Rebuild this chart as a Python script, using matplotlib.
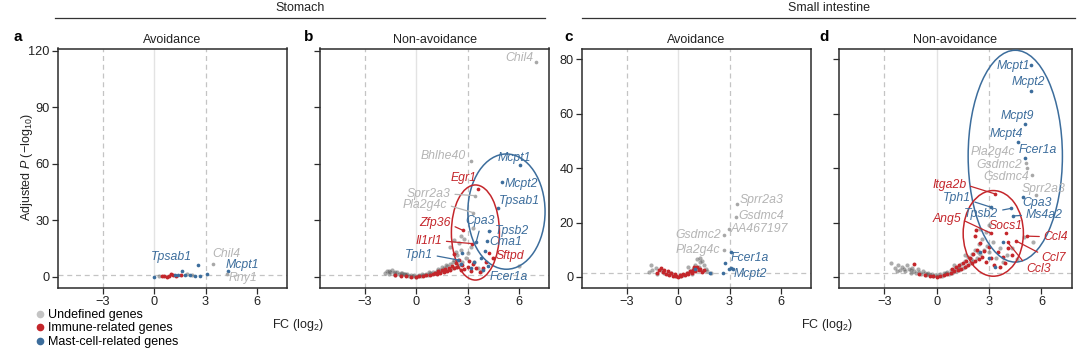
import matplotlib.pyplot as plt
from matplotlib.patches import Ellipse
from matplotlib.lines import Line2D

plt.rcParams['font.family'] = ['Liberation Sans', 'DejaVu Sans']
plt.rcParams['mathtext.fontset'] = 'custom'
plt.rcParams['mathtext.rm'] = 'Liberation Sans'
plt.rcParams['mathtext.it'] = 'Liberation Sans:italic'

GREY = '#b4b4b4'
RED = '#c4262b'
BLUE = '#3c6d9c'
cols = {'grey': GREY, 'immune': RED, 'mast': BLUE}

# ---- data (FC log2, -log10 adj P)
# a: stomach, avoidance
a_grey = [(1.9, 1.8), (2.2, 1.2), (0.3, 0.4)]
a_red = [(0.45, 0.3), (0.6, 0.4), (0.75, 0.2), (0.9, 0.6), (1.0, 1.4), (1.1, 0.9), (1.3, 0.6), (1.55, 1.0)]
a_blue = [(0.0, 0.2), (1.2, 0.9), (1.4, 1.2), (1.64, 3.0), (1.8, 1.0), (2.1, 0.8), (2.4, 0.5), (2.7, 0.7), (3.1, 1.4)]
a_genes = [('Tpsab1', 'mast', 2.55, 6.2), ('Chil4', 'grey', 3.45, 7.0),
           ('Mcpt1', 'mast', 4.3, 3.4), ('Rny1', 'grey', 4.25, 1.6)]

# b: stomach, non-avoidance
b_grey = [(-1.8, 2.0), (-1.7, 3.0), (-1.6, 1.5), (-1.5, 2.5), (-1.4, 3.5), (-1.3, 2.0), (-1.2, 1.2), (-1.1, 2.8),
          (-1.0, 1.8), (-0.9, 1.0), (-0.8, 2.2), (-0.7, 1.4), (-0.6, 0.9), (-0.5, 1.6), (-0.4, 0.6), (-0.3, 1.1),
          (-0.2, 0.4), (-0.1, 0.8), (0.0, 0.2), (0.1, 0.5), (0.2, 0.9), (0.3, 0.4), (0.4, 1.2), (0.5, 0.8),
          (0.6, 1.6), (0.7, 1.1), (0.8, 2.0), (0.9, 1.5), (1.0, 2.6), (1.1, 1.9), (1.2, 3.2), (1.3, 2.4),
          (1.4, 3.8), (1.5, 2.9), (1.6, 4.5), (1.7, 3.4), (1.8, 5.6), (1.9, 4.0), (2.0, 7.0), (2.1, 4.8),
          (2.2, 9.0), (2.3, 5.5), (2.4, 11.5), (2.5, 6.5), (2.6, 14.5), (2.7, 8.0), (2.8, 20.0), (2.9, 10.0),
          (3.0, 12.5), (3.2, 16.0), (3.4, 8.0), (3.6, 5.0), (3.8, 3.0), (2.2, 19.5), (2.0, 16.0), (2.5, 18.0),
          (6.0, 6.0), (3.3, 26.0), (2.6, 22.0), (-1.2, 2.4), (-0.9, 1.9), (1.5, 5.2), (2.3, 13.0),
          (-1.55, 3.2), (-0.65, 1.8), (0.35, 1.5), (0.75, 2.6), (1.25, 4.0), (1.75, 6.2), (2.15, 7.8)]
b_red = [(-1.2, 1.0), (-0.9, 0.6), (-0.6, 0.4), (-0.3, 0.2), (0.0, 0.1), (0.2, 0.3), (0.4, 0.6), (0.6, 0.9),
         (0.8, 1.3), (1.0, 1.7), (1.1, 2.3), (1.2, 1.5), (1.3, 3.0), (1.4, 2.0), (1.5, 3.6), (1.6, 2.6),
         (1.7, 4.3), (1.8, 3.2), (1.9, 5.0), (2.0, 3.8), (2.1, 6.0), (2.2, 4.5), (2.3, 7.5), (2.4, 5.3),
         (2.5, 9.0), (2.6, 3.5), (2.7, 6.5), (2.8, 4.0), (3.0, 5.5), (3.1, 8.5), (3.2, 3.0), (3.3, 6.8),
         (3.5, 4.5), (3.7, 2.5), (3.9, 5.0), (4.1, 8.0), (4.5, 10.0), (2.2, 12.0)]
b_blue = [(2.7, 12.5), (3.8, 10.0), (4.0, 14.0), (3.4, 8.0), (3.9, 3.5), (2.6, 7.0), (3.2, 5.0)]
b_genes = [('Chil4', 'grey', 7.0, 114.0), ('Bhlhe40', 'grey', 3.2, 61.8), ('Mcpt1', 'mast', 6.07, 59.3),
           ('Mcpt2', 'mast', 5.0, 50.6), ('Tpsab1', 'mast', 4.76, 36.8), ('Egr1', 'immune', 3.6, 46.6),
           ('Sprr2a3', 'grey', 3.41, 43.2), ('Pla2g4c', 'grey', 3.31, 34.2), ('Cpa3', 'mast', 3.5, 18.4),
           ('Zfp36', 'immune', 2.72, 24.8), ('Il1rl1', 'immune', 3.28, 17.7), ('Tpsb2', 'mast', 4.24, 24.3),
           ('Cma1', 'mast', 4.16, 19.3), ('Sftpd', 'immune', 4.28, 12.6), ('Tph1', 'mast', 2.45, 9.0),
           ('Fcer1a', 'mast', 4.2, 6.0)]

# c: small intestine, avoidance
c_grey = [(-1.6, 4.2), (-1.5, 2.5), (-1.7, 1.8), (-1.3, 3.2), (-1.2, 1.2), (-1.0, 2.6), (-0.8, 1.6), (-0.6, 0.9),
          (-0.4, 1.4), (-0.2, 0.5), (0.1, 0.3), (0.3, 0.8), (0.5, 1.5), (0.7, 2.2), (0.8, 1.2), (0.9, 3.0),
          (1.0, 4.5), (1.1, 2.5), (1.1, 6.4), (1.2, 3.8), (1.3, 5.5), (1.4, 6.0), (1.45, 2.0), (1.5, 4.2),
          (1.6, 3.0), (1.7, 2.2), (1.9, 1.5), (0.6, 3.5), (1.25, 6.8)]
c_red = [(-1.1, 2.5), (-1.0, 3.3), (-0.9, 1.8), (-0.8, 2.6), (-0.7, 1.2), (-0.6, 2.0), (-0.5, 0.8), (-0.4, 1.5),
         (-0.3, 0.5), (-0.2, 0.9), (-0.1, 0.3), (0.0, 0.1), (0.1, 0.6), (0.2, 0.3), (0.3, 1.0), (0.4, 0.6),
         (0.5, 1.5), (0.6, 1.0), (0.7, 2.0), (0.8, 1.5), (0.9, 2.7), (1.0, 2.0), (1.1, 3.5), (1.2, 2.4),
         (1.3, 3.0), (1.4, 1.8), (1.5, 2.6), (-1.2, 1.5), (0.95, 3.8)]
c_blue = [(2.74, 5.0), (2.6, 1.5), (2.97, 2.9), (1.87, 1.4), (3.2, 2.8), (1.0, 3.0)]
c_genes = [('Sprr2a3', 'grey', 3.45, 26.9), ('Gsdmc4', 'grey', 3.39, 21.9), ('AA467197', 'grey', 2.97, 17.7),
           ('Gsdmc2', 'grey', 2.65, 15.3), ('Pla2g4c', 'grey', 2.65, 9.8), ('Fcer1a', 'mast', 3.1, 9.1),
           ('Mcpt2', 'mast', 3.1, 3.4)]

# d: small intestine, non-avoidance
d_grey = [(-2.6, 5.0), (-2.4, 3.2), (-2.2, 4.5), (-2.1, 2.4), (-2.0, 3.8), (-1.8, 2.0), (-1.7, 4.2), (-1.6, 3.0),
          (-1.5, 1.6), (-1.4, 3.4), (-1.3, 2.3), (-1.2, 1.3), (-1.1, 2.8), (-1.0, 1.8), (-0.9, 1.0), (-0.8, 2.2),
          (-0.7, 1.4), (-0.6, 0.8), (-0.5, 1.6), (-0.4, 0.6), (-0.3, 1.0), (-0.2, 0.4), (-0.1, 0.7), (0.0, 0.2),
          (0.1, 0.5), (0.2, 0.9), (0.3, 0.5), (0.4, 1.3), (0.5, 0.9), (0.6, 1.8), (0.7, 1.2), (0.8, 2.4),
          (0.9, 1.6), (1.0, 3.0), (1.1, 2.0), (1.2, 3.8), (1.3, 2.6), (1.4, 4.8), (1.5, 3.2), (1.6, 6.0),
          (1.7, 4.0), (1.8, 7.2), (1.9, 5.0), (2.0, 8.5), (2.1, 6.0), (2.2, 10.0), (2.3, 7.0), (2.4, 12.0),
          (2.5, 8.5), (2.6, 14.0), (2.7, 10.0), (2.8, 16.5), (2.9, 11.5), (3.0, 9.0), (3.2, 13.0), (3.4, 7.0),
          (3.6, 10.5), (3.8, 5.5), (4.0, 8.0), (4.3, 10.5), (4.6, 6.5), (5.0, 14.5), (5.5, 13.0), (3.0, 19.0),
          (2.5, 17.5), (-2.3, 2.0), (-1.9, 3.0), (1.0, 4.2), (1.6, 8.0), (-1.45, 2.6), (-0.55, 1.2), (0.55, 1.4),
          (1.25, 3.3), (1.95, 6.6), (2.35, 9.2)]
d_red = [(-1.33, 4.9), (-1.0, 1.2), (-0.7, 0.8), (-0.4, 0.5), (-0.2, 0.3), (0.0, 0.1), (0.2, 0.4), (0.4, 0.7),
         (0.6, 1.1), (0.8, 1.6), (0.9, 2.8), (1.0, 2.1), (1.1, 3.5), (1.2, 2.6), (1.3, 4.2), (1.4, 3.0),
         (1.5, 5.0), (1.6, 3.6), (1.7, 6.0), (1.8, 4.2), (1.9, 7.0), (2.0, 5.0), (2.1, 8.5), (2.2, 5.8),
         (2.3, 10.0), (2.4, 6.5), (2.5, 12.5), (2.6, 7.5), (2.2, 15.0), (2.7, 9.5), (2.8, 5.5), (3.0, 11.0),
         (3.1, 7.0), (3.3, 4.5), (3.5, 9.0), (3.6, 3.5), (3.8, 7.5), (3.9, 5.0), (4.1, 10.5), (4.3, 8.0),
         (2.27, 17.2)]
d_blue = [(3.82, 12.9), (3.31, 3.7), (3.0, 7.0), (2.5, 9.0)]
d_genes = [('Mcpt1', 'mast', 5.38, 77.9), ('Mcpt2', 'mast', 5.42, 68.2), ('Mcpt9', 'mast', 5.06, 56.2),
           ('Mcpt4', 'mast', 4.64, 49.6), ('Fcer1a', 'mast', 5.07, 43.9), ('Pla2g4c', 'grey', 5.13, 41.8),
           ('Gsdmc2', 'grey', 5.15, 40.0), ('Gsdmc4', 'grey', 5.45, 37.3), ('Sprr2a3', 'grey', 5.68, 30.1),
           ('Cpa3', 'mast', 4.92, 29.5), ('Ms4a2', 'mast', 4.35, 22.4), ('Tpsb2', 'mast', 4.26, 25.2),
           ('Tph1', 'mast', 3.12, 25.6), ('Itga2b', 'immune', 3.35, 30.5), ('Ang5', 'immune', 3.12, 16.0),
           ('Socs1', 'immune', 3.98, 16.0), ('Ccl4', 'immune', 5.15, 15.0), ('Ccl7', 'immune', 4.55, 13.2),
           ('Ccl3', 'immune', 4.07, 12.7)]

# ---- label layout: gene -> (text x, text y, line anchor on text or None)
a_lab = {'Tpsab1': (1.0, 10.4, None), 'Chil4': (4.2, 12.2, None), 'Mcpt1': (5.15, 6.4, None),
         'Rny1': (5.2, -0.7, None)}
b_lab = {'Chil4': (6.0, 116.5, None), 'Bhlhe40': (1.58, 64.4, None), 'Mcpt1': (5.72, 63.0, None),
         'Mcpt2': (6.15, 49.4, None), 'Tpsab1': (6.0, 40.4, None), 'Egr1': (2.77, 52.6, None),
         'Sprr2a3': (0.75, 44.0, (1, 0.5)), 'Pla2g4c': (0.52, 38.2, (1, 0.5)), 'Cpa3': (3.74, 29.7, (0.5, 0)),
         'Zfp36': (1.12, 28.9, (1, 0.3)), 'Il1rl1': (0.75, 19.1, (1, 0.5)), 'Tpsb2': (5.62, 24.3, (0, 0.5)),
         'Cma1': (5.24, 18.6, None), 'Sftpd': (5.49, 11.2, None), 'Tph1': (0.17, 11.5, (1, 0.5)),
         'Fcer1a': (5.4, -0.2, (0.05, 1))}
c_lab = {'Sprr2a3': (4.86, 28.1, None), 'Gsdmc4': (4.86, 22.4, None), 'AA467197': (4.73, 17.7, None),
         'Gsdmc2': (1.17, 15.3, None), 'Pla2g4c': (1.17, 9.8, None), 'Fcer1a': (4.2, 7.1, None),
         'Mcpt2': (4.2, 1.1, None)}
d_lab = {'Mcpt1': (4.41, 77.5, None), 'Mcpt2': (5.26, 71.7, None), 'Mcpt9': (4.64, 59.3, None),
         'Mcpt4': (3.98, 52.4, None), 'Fcer1a': (5.77, 46.5, None), 'Pla2g4c': (3.2, 46.0, None),
         'Gsdmc2': (3.6, 41.3, None), 'Gsdmc4': (3.98, 36.6, None), 'Sprr2a3': (6.15, 32.5, None),
         'Cpa3': (5.77, 27.1, None), 'Ms4a2': (6.15, 22.7, (0, 0.5)), 'Tpsb2': (2.56, 23.0, (1, 0.8)),
         'Tph1': (1.14, 28.9, (1, 0.3)), 'Itga2b': (0.72, 33.8, (1, 0.5)), 'Ang5': (0.57, 21.2, (1, 0.5)),
         'Socs1': (3.98, 18.7, None), 'Ccl4': (6.82, 14.8, (0, 0.5)), 'Ccl7': (6.72, 7.0, (0, 0.8)),
         'Ccl3': (5.83, 3.0, (0, 0.8))}

# ellipses (centre x, centre y, width, height, colour)
b_ell = [(5.27, 34.7, 4.5, 61.2, BLUE), (3.46, 23.6, 2.8, 50.5, RED)]
d_ell = [(4.5, 44.4, 5.4, 77.9, BLUE), (3.24, 16.0, 3.45, 31.5, RED)]

W, H = 1080, 357
fig = plt.figure(figsize=(W / 100, H / 100), dpi=100)


def rect(l, r, t=48.5, b=287.5):
    return [l / W, 1 - b / H, (r - l) / W, (b - t) / H]


panels = [
    ('a', 'Avoidance', rect(58, 287), 44, (-5.6, 121.3), [0, 30, 60, 90, 120], True,
     a_grey, a_red, a_blue, a_genes, a_lab, []),
    ('b', 'Non-avoidance', rect(320, 549), 16, (-5.6, 121.3), [0, 30, 60, 90, 120], False,
     b_grey, b_red, b_blue, b_genes, b_lab, b_ell),
    ('c', 'Avoidance', rect(582, 811), 18, (-3.9, 84), [0, 20, 40, 60, 80], True,
     c_grey, c_red, c_blue, c_genes, c_lab, []),
    ('d', 'Non-avoidance', rect(839, 1072), 20, (-3.9, 84), [0, 20, 40, 60, 80], False,
     d_grey, d_red, d_blue, d_genes, d_lab, d_ell),
]

for letter, title, pos, loff, ylim, yt, ylab, grey, red, blue, genes, lab, ells in panels:
    ax = fig.add_axes(pos)
    ax.set_xlim(-5.6, 7.75)
    ax.set_ylim(*ylim)
    ax.axvline(0, color='#e3e3e3', lw=1.0, zorder=0)
    for xv in (-3, 3):
        ax.axvline(xv, color='#c4c4c4', lw=0.9, ls=(0, (4, 3)), zorder=0)
    ax.axhline(1.3, color='#c4c4c4', lw=0.9, ls=(0, (4, 3)), zorder=0)

    ax.scatter([p[0] for p in grey], [p[1] for p in grey], s=9, c='#5a5a5a', alpha=0.5, lw=0, zorder=2)
    ax.scatter([p[0] for p in red], [p[1] for p in red], s=8, c=RED, lw=0, zorder=3)
    ax.scatter([p[0] for p in blue], [p[1] for p in blue], s=7, c=BLUE, lw=0, zorder=4)
    for g, cat, gx, gy in genes:
        ax.scatter(gx, gy, s=7, c=('#a8a8a8' if cat == 'grey' else cols[cat]), lw=0, zorder=5)

    for cx, cy, w, h, ec in ells:
        ax.add_patch(Ellipse((cx, cy), w, h, fill=False, ec=ec, lw=1.1, zorder=6))

    for g, cat, gx, gy in genes:
        tx, ty, anchor = lab[g]
        col = cols[cat]
        if anchor is None:
            ax.text(tx, ty, g, color=col, fontsize=8.8, style='italic', ha='center', va='center', zorder=7)
        else:
            ax.annotate(g, xy=(gx, gy), xytext=(tx, ty), color=col, fontsize=8.8, style='italic',
                        ha='center', va='center', zorder=7,
                        arrowprops=dict(arrowstyle='-', color=col, lw=0.9, relpos=anchor,
                                        shrinkA=1, shrinkB=0))

    ax.set_xticks([-3, 0, 3, 6])
    ax.set_xticklabels(['\u22123', '0', '3', '6'])
    ax.set_yticks(yt)
    if not ylab:
        ax.set_yticklabels([])
    ax.tick_params(labelsize=9.2, length=4, width=0.9, color='#2b2b2b', labelcolor='#222222', pad=2)
    for s in ax.spines.values():
        s.set_color('#2b2b2b')
        s.set_linewidth(1.1)
    ax.set_title(title, fontsize=9, pad=4, color='#222222')
    fig.text(pos[0] - loff / W, 1 - 44 / H, letter, fontsize=11, fontweight='bold', va='bottom')

fig.text(27 / W, 1 - 167 / H, 'Adjusted $P$ (\u2212log$_{10}$)', rotation=90, fontsize=9,
         ha='center', va='center', color='#222222')
for xc in (298, 827):
    fig.text(xc / W, 1 - 325 / H, 'FC (log$_2$)', fontsize=9, ha='center', va='center', color='#222222')

# group headers
for l, r, name in ((55, 545, 'Stomach'), (582, 1075, 'Small intestine')):
    fig.add_artist(Line2D([l / W, r / W], [1 - 17.5 / H, 1 - 17.5 / H], color='#333333', lw=0.9))
    fig.text((l + r) / 2 / W, 1 - 8 / H, name, fontsize=9, ha='center', va='center', color='#222222')

handles = [Line2D([], [], ls='', marker='o', ms=4.5, color=c) for c in ('#c4c4c4', RED, BLUE)]
fig.legend(handles, ['Undefined genes', 'Immune-related genes', 'Mast-cell-related genes'],
           loc='upper left', bbox_to_anchor=(34 / W, 1 - 309 / H), frameon=False, fontsize=9,
           handletextpad=0.1, labelspacing=0.12, borderaxespad=0, borderpad=0, handlelength=1.0)

fig.savefig('out.png', dpi=100)
